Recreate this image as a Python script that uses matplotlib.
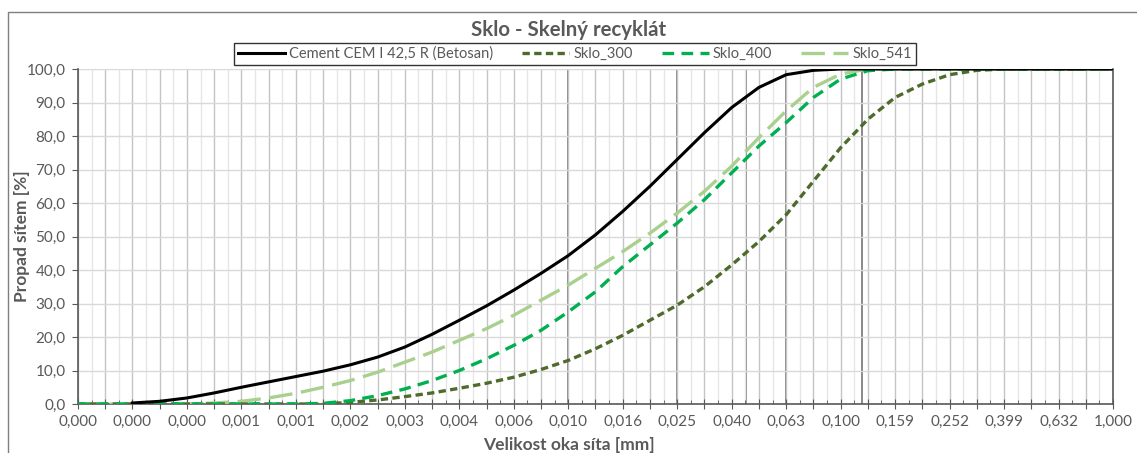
import numpy as np
import matplotlib
matplotlib.use("Agg")
import matplotlib.pyplot as plt
from matplotlib.patches import Rectangle

plt.rcParams['font.family'] = ['Lato', 'DejaVu Sans']

# velikost oka síta [mm] - body po půl dílku logaritmické osy
sieve_mm = [0.000158, 0.000200, 0.000251, 0.000316, 0.000398, 0.000501, 0.000631,
            0.000794, 0.001000, 0.001259, 0.001585, 0.001995, 0.002512, 0.003162,
            0.003981, 0.005012, 0.006310, 0.007943, 0.010000, 0.012589, 0.015849,
            0.019953, 0.025119, 0.031623, 0.039811, 0.050119, 0.063096, 0.079433,
            0.100000, 0.125893, 0.158489, 0.199526, 0.251189, 0.316228, 0.398107,
            0.501187, 0.630957, 0.794328, 1.000000]

cement = [np.nan, np.nan, 0.3, 0.8, 1.8, 3.3, 5.0, 6.6, 8.2, 9.8, 11.7, 14.0, 17.0,
          20.8, 25.0, 29.3, 34.0, 39.0, 44.3, 50.5, 57.5, 65.0, 73.0, 81.0, 88.5,
          94.5, 98.3, 99.6, 100, 100, 100, 100, 100, 100, 100, 100, 100, 100, 100]
sklo_300 = [0, 0, 0, 0, 0, 0, 0, 0, 0, 0, 0.5, 1.2, 2.2, 3.3, 4.7, 6.2, 8.0, 10.3,
            13.0, 16.5, 20.5, 25.0, 29.5, 35.0, 41.5, 48.5, 56.5, 66.5, 76.5, 85.0,
            91.5, 95.5, 98.3, 99.6, 100, 100, 100, 100, 100]
sklo_400 = [0, 0, 0, 0, 0, 0, 0, 0, 0, 0.2, 1.0, 2.5, 4.5, 7.0, 10.0, 13.5, 17.5,
            22.0, 27.5, 33.5, 41.0, 47.5, 54.0, 61.0, 69.0, 77.0, 84.0, 91.5, 97.0,
            99.5, 100, 100, 100, 100, 100, 100, 100, 100, 100]
sklo_541 = [0, 0, 0, 0, 0, 0.3, 0.8, 1.8, 3.2, 5.0, 7.0, 9.5, 12.5, 15.5, 19.0, 22.5,
            26.5, 31.0, 35.5, 40.5, 45.5, 51.0, 57.0, 63.5, 71.0, 79.5, 87.5, 94.5,
            98.5, 100, 100, 100, 100, 100, 100, 100, 100, 100, 100]

tick_labels = ["0,000", "0,000", "0,000", "0,001", "0,001", "0,002", "0,003", "0,004",
               "0,006", "0,010", "0,016", "0,025", "0,040", "0,063", "0,100", "0,159",
               "0,252", "0,399", "0,632", "1,000"]
# zvýrazněné svislé čáry (síta)
marked_sieves = [0.010, 0.025, 0.045, 0.063, 0.12]

gray = '#595959'

fig = plt.figure(figsize=(11.37, 4.53), dpi=100)
ax = fig.add_axes([78 / 1137, 1 - 404 / 453, (1113 - 78) / 1137, (404 - 69) / 453])

# rámeček grafu
fig.patches.append(Rectangle((8 / 1137, -0.1), 1.2, 1 - 12 / 453 + 0.1,
                             transform=fig.transFigure, fill=False,
                             edgecolor='#7f7f7f', lw=1.0))

ax.set_xscale('log')
ax.set_xlim(10 ** -3.8, 1.0)
ax.set_ylim(0, 100)

major = [10 ** (-3.8 + 0.1 * k) for k in range(39)]
minor = [10 ** (-3.75 + 0.1 * k) for k in range(38)]
ax.set_xticks(major)
ax.set_xticklabels([tick_labels[k // 2] if k % 2 == 0 else '' for k in range(39)])
ax.set_xticks(minor, minor=True)
ax.set_xticklabels([], minor=True)

ax.set_yticks(range(0, 101, 10))
ax.set_yticklabels([f"{v},0" for v in range(0, 101, 10)])

ax.grid(True, which='major', axis='x', color='#c4c4c4', lw=1.0)
ax.grid(True, which='minor', axis='x', color='#e6e6e6', lw=1.0)
ax.grid(True, which='major', axis='y', color='#d9d9d9', lw=1.0)
for s in marked_sieves:
    ax.axvline(s, color='#808080', lw=1.3, zorder=1)

ax.tick_params(axis='x', which='major', direction='inout', length=7, color=gray,
               labelsize=11, labelcolor=gray, pad=4)
ax.tick_params(axis='x', which='minor', direction='in', length=3, color=gray)
ax.tick_params(axis='y', which='major', direction='out', length=4, color=gray,
               labelsize=11, labelcolor=gray, pad=5)

for side in ['left', 'bottom', 'right']:
    ax.spines[side].set_color(gray)
    ax.spines[side].set_linewidth(1.2)
ax.spines['top'].set_visible(False)

ax.plot(sieve_mm, cement, color='black', lw=2.2, label='Cement CEM I 42,5 R (Betosan)', zorder=5)
ax.plot(sieve_mm, sklo_300, color='#4e6b2c', lw=2.4, dashes=(2.2, 1.3), label='Sklo_300', zorder=4)
ax.plot(sieve_mm, sklo_400, color='#00b050', lw=2.4, dashes=(3.5, 2.2), label='Sklo_400', zorder=4)
ax.plot(sieve_mm, sklo_541, color='#a9d08e', lw=2.4, dashes=(7, 2.6), label='Sklo_541', zorder=3)

fig.text(0.5, 1 - 30 / 453, 'Sklo - Skelný recyklát', ha='center', va='center',
         fontsize=14.7, fontweight='bold', color=gray)
fig.text(22 / 1137, 1 - 236 / 453, 'Propad sítem [%]', ha='center', va='center',
         rotation=90, fontsize=12.5, fontweight='bold', color=gray)
fig.text(0.5, 1 - 445 / 453, 'Velikost oka síta [mm]', ha='center', va='center',
         fontsize=12.5, fontweight='bold', color=gray)

leg = fig.legend(loc='center', bbox_to_anchor=(575 / 1137, 1 - 54 / 453), ncol=4,
                 fontsize=10.5, frameon=True, fancybox=False, handlelength=3.2,
                 columnspacing=2.0, borderpad=0.25, handletextpad=0.3)
leg.get_frame().set_edgecolor('black')
leg.get_frame().set_linewidth(1.0)
for t in leg.get_texts():
    t.set_color(gray)

fig.savefig('out.png', dpi=100)
